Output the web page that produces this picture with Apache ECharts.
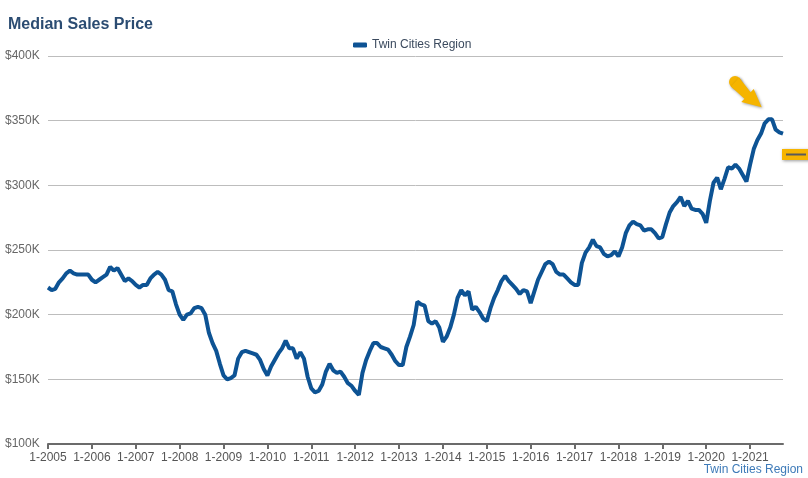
<!DOCTYPE html>
<html>
<head>
<meta charset="utf-8">
<script src="https://cdn.jsdelivr.net/npm/echarts@6/dist/echarts.min.js"></script>
<style>html,body{margin:0;padding:0;background:#fff;}#c{width:808px;height:478px;}</style>
</head>
<body>
<div id="c"></div>
<script>
// Monthly median sales price (thousands of dollars), Jan 2005 - Oct 2021
const prices2005_2008 = [221,219,220,225,228,232,234,232,231,231,231,231,
  227,225,227,229,231,237,234,236,231,226,228,226,
  223,221,223,223,228,231,233,231,227,219,218,208,
  200,196,200,201,205,206,205,200,186,178,172,162];
const prices2009_2012 = [153,150,151,153,166,171,172,171,170,169,165,158,
  153,160,165,170,174,180,174,174,166,171,166,152,
  143,140,141,146,156,162,157,155,156,152,147,145,
  141,138,155,165,172,178,178,175,174,173,169,164];
const prices2013_2016 = [161,161,175,183,192,210,208,207,195,193,195,190,
  179,183,190,200,213,219,215,218,204,206,202,197,
  195,205,213,219,226,230,226,223,220,216,219,218,
  209,218,227,233,239,241,239,233,231,231,228,225];
const prices2017_2021 = [223,223,240,248,252,258,253,252,247,245,246,249,
  245,252,263,269,272,270,269,265,266,266,263,259,
  260,270,279,284,287,291,284,288,282,281,281,278,
  271,288,302,306,297,305,314,313,316,313,308,303,
  316,328,335,340,348,351,351,343,341,340];
const values = [].concat(prices2005_2008, prices2009_2012, prices2013_2016, prices2017_2021);
const firstYear = 2005;
const categories = values.map((v, i) => (i % 12 + 1) + '-' + (firstYear + Math.floor(i / 12)));
const seriesName = 'Twin Cities Region';
const titleText = 'Median Sales Price';
const yMin = 100, yMax = 400, yStep = 50;

const chart = echarts.init(document.getElementById('c'));
const font = '"Liberation Sans", Arial, sans-serif';
const shadow = { shadowBlur: 3, shadowColor: 'rgba(0,0,0,0.4)', shadowOffsetX: 1, shadowOffsetY: 1 };
chart.setOption({
  animation: false,
  title: {
    text: titleText, left: 3, top: 12,
    textStyle: { fontFamily: font, fontSize: 16, fontWeight: 'bold', color: '#2b4c72' }
  },
  legend: {
    data: [seriesName], top: 34, left: 348,
    icon: 'roundRect', itemWidth: 14, itemHeight: 5, itemGap: 6,
    textStyle: { fontFamily: font, fontSize: 12, color: '#3b4a5e' }
  },
  grid: { left: 48, right: 25, top: 56, bottom: 34 },
  xAxis: {
    type: 'category', data: categories, boundaryGap: false,
    axisLine: { lineStyle: { color: '#6b6b6b', width: 2 } },
    axisTick: { show: true, interval: (i) => i % 12 === 0, length: 5, lineStyle: { color: '#6b6b6b', width: 2 } },
    axisLabel: { interval: (i) => i % 12 === 0, fontFamily: font, fontSize: 12, color: '#555', margin: 8 }
  },
  yAxis: {
    type: 'value', min: yMin, max: yMax, interval: yStep,
    axisLine: { show: false }, axisTick: { show: false },
    splitLine: { lineStyle: { color: '#bdbdbd', width: 1 } },
    axisLabel: {
      formatter: (v) => '$' + v + 'K', align: 'left', margin: 43,
      fontFamily: font, fontSize: 12, color: '#666'
    }
  },
  series: [{
    name: seriesName, type: 'line', data: values, showSymbol: false,
    lineStyle: { color: '#0d5394', width: 4 }, itemStyle: { color: '#0d5394' }
  }],
  graphic: [
    {
      type: 'text', right: 5, top: 464,
      style: { text: 'Twin Cities Region', font: '12px ' + font, fill: '#3d7ab8' }
    },
    {
      type: 'group',
      children: [
        { type: 'circle', shape: { cx: 735, cy: 82, r: 6 }, style: Object.assign({ fill: '#f5b400' }, shadow) },
        { type: 'polygon',
          shape: { points: [[739.1,77.6],[750.6,92.2],[753.7,89],[761.7,107.3],[741.3,102],[744.4,98.8],[730.9,86.4]] },
          style: Object.assign({ fill: '#f5b400' }, shadow) }
      ]
    },
    { type: 'rect', shape: { x: 782, y: 149, width: 30, height: 11 }, style: Object.assign({ fill: '#f6b400' }, shadow) },
    { type: 'line', shape: { x1: 786, y1: 154.5, x2: 806, y2: 154.5 }, style: { stroke: '#5a5a5a', lineWidth: 2 } }
  ]
});
</script>
</body>
</html>
